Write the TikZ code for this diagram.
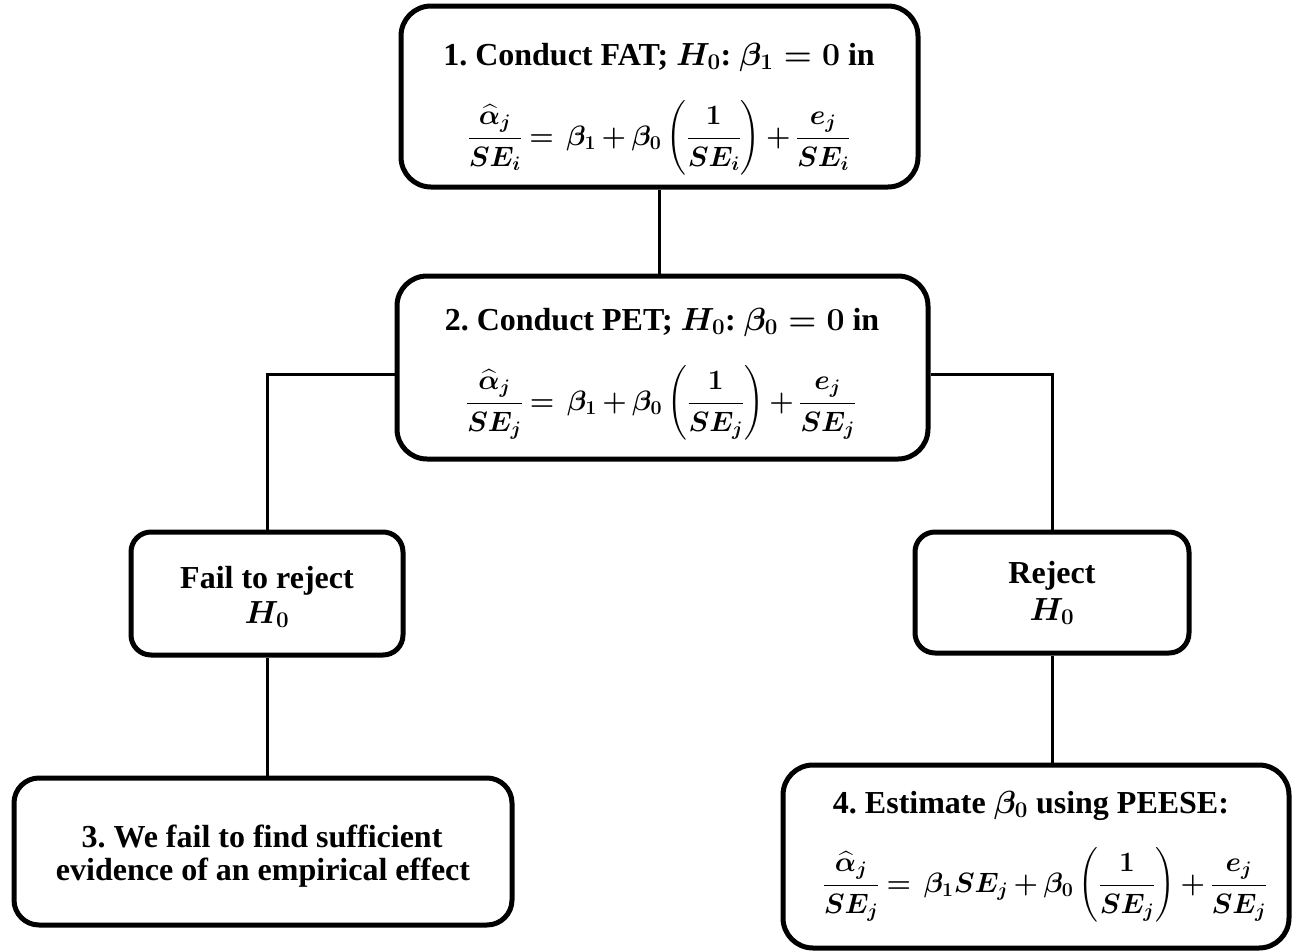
\RequirePackage{fix-cm}
\documentclass[tikz,border=0pt]{standalone}
\usepackage{amsmath}
\usepackage{fontspec}
\setmainfont{Liberation Serif}
\frenchspacing
\tikzset{
  box/.style={draw, line width=5pt, rounded corners=#1, inner sep=0pt},
  box/.default=28pt,
  conn/.style={line width=3pt},
  txt/.style={anchor=base, inner sep=0pt, align=center,
    font=\fontsize{32}{36}\selectfont\bfseries\boldmath},
  mth/.style={anchor=base, inner sep=0pt,
    font=\fontsize{28}{34}\selectfont\bfseries\boldmath},
}
\newcommand\eqsp{\medmuskip=3mu plus 1mu minus 1mu\thickmuskip=4mu\relax}
\begin{document}
\begin{tikzpicture}[x=1pt, y=-1pt]
\useasboundingbox (0,0) rectangle (1294,951);
% boxes
\node[box=30pt, minimum width=517pt, minimum height=181pt] (b1) at (659.5,96.5) {};
\node[box=30pt, minimum width=531pt, minimum height=183pt] (b2) at (662.5,367.5) {};
\node[box=20pt, minimum width=272pt, minimum height=123pt] (fail) at (267,593.5) {};
\node[box=20pt, minimum width=274pt, minimum height=121pt] (rej) at (1052,592.5) {};
\node[box=25pt, minimum width=498pt, minimum height=147pt] (b3) at (263,851.5) {};
\node[box=30pt, minimum width=506pt, minimum height=183pt] (b4) at (1036,856.5) {};
% texts
\node[txt] (t1a) at (659,65) {1. Conduct FAT; $H_0$: $\beta_1 = 0$ in};
\node[mth] (t1b) at (659,145) {\eqsp$\displaystyle \frac{\widehat{\alpha}_j}{SE_i} = \,\beta_1 + \beta_0\left(\frac{1}{SE_i}\right) + \frac{e_j}{SE_i}$};
\node[txt] (t2a) at (662,330) {2. Conduct PET; $H_0$: $\beta_0 = 0$ in};
\node[mth] (t2b) at (661,410) {\eqsp$\displaystyle \frac{\widehat{\alpha}_j}{SE_j} = \,\beta_1 + \beta_0\left(\frac{1}{SE_j}\right) + \frac{e_j}{SE_j}$};
\node[txt] (tfa) at (267,588) {Fail to reject};
\node[txt] (tfb) at (267,623) {$H_0$};
\node[txt] (tra) at (1052,583) {Reject};
\node[txt] (trb) at (1052,620) {$H_0$};
\node[txt] (t3a) at (262,847) {3. We fail to find sufficient};
\node[txt] (t3b) at (263,880) {evidence of an empirical effect};
\node[txt] (t4a) at (1031,813) {4. Estimate $\beta_0$ using PEESE:};
\node[mth] (t4b) at (1045,892) {\eqsp$\displaystyle \frac{\widehat{\alpha}_j}{SE_j} = \,\beta_1 SE_j + \beta_0\left(\frac{1}{SE_j}\right) + \frac{e_j}{SE_j}$};
% connectors
\draw[conn] (b1.south) -- (b1.south |- b2.north);
\draw[conn] ([yshift=-6.5pt]b2.west) -| (fail.north);
\draw[conn] ([yshift=-6.5pt]b2.east) -| (rej.north);
\draw[conn] (fail.south) -- (fail.south |- b3.north);
\draw[conn] (rej.south) -- (rej.south |- b4.north);
\end{tikzpicture}
\end{document}
